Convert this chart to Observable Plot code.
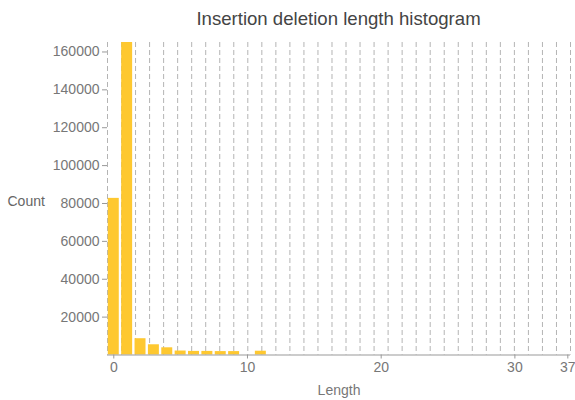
<!DOCTYPE html>
<html>
<head>
<meta charset="utf-8">
<script src="https://cdn.jsdelivr.net/npm/d3@7"></script>
<script src="https://cdn.jsdelivr.net/npm/@observablehq/plot@0.6"></script>
<style>
  html, body { margin: 0; padding: 0; background: #fff; }
  #title {
    height: 34px; box-sizing: border-box;
    padding: 8px 5px 0 107px;
    text-align: center;
    font: 18.6px "Liberation Sans", Arial, sans-serif;
    color: #444;
  }
  #chart svg { display: block; }
</style>
</head>
<body>
<div id="title">Insertion deletion length histogram</div>
<div id="chart"></div>
<script>
// Data
const lengths = [0, 1, 2, 3, 4, 5, 6, 7, 8, 9, 11];
const counts  = [82700, 165000, 8600, 5400, 3800, 2100, 1900, 1900, 1800, 1800, 2000];

const yTickValues = [20000, 40000, 60000, 80000, 100000, 120000, 140000, 160000];
const xTickValues = [0, 10, 20, 30, 33.96];
const xTickLabels = ["0", "10", "20", "30", "37"];

const xDomain = [-0.47, 34.16];
const yDomain = [0, 165000];
const gridCount = 33; // vertical dashed lines divide the frame into equal parts

const data = lengths.map((l, i) => ({length: l, count: counts[i]}));
const gridPositions = d3.range(gridCount + 1).map(k => xDomain[0] + k * (xDomain[1] - xDomain[0]) / gridCount);

const font = '"Liberation Sans", Arial, sans-serif';

const chart = Plot.plot({
  width: 575,
  height: 366,
  marginLeft: 107,
  marginRight: 5,
  marginTop: 8,
  marginBottom: 45.5,
  style: {fontFamily: font, fontSize: "14px", color: "#777", background: "#fff"},
  x: {domain: xDomain, axis: null},
  y: {domain: yDomain, axis: null},
  marks: [
    Plot.ruleX(gridPositions, {stroke: "#b4b4b4", strokeWidth: 1, strokeDasharray: "5,3"}),
    Plot.rectY(data, {
      x1: d => d.length - 0.5,
      x2: d => d.length + 0.5,
      y: "count",
      fill: "#fec830",
      insetLeft: 1.2,
      insetRight: 1.2
    }),
    Plot.ruleY([0], {stroke: "#999", strokeWidth: 1}),
    Plot.axisY({
      ticks: yTickValues,
      tickFormat: d3.format("d"),
      tickSize: 5,
      tickPadding: 3,
      stroke: "#999",
      fill: "#777",
      fontSize: 14,
      label: null
    }),
    Plot.axisX({
      ticks: xTickValues,
      tickFormat: (d, i) => xTickLabels[i],
      tickSize: 4,
      tickPadding: 3,
      stroke: "#999",
      fill: "#777",
      fontSize: 14,
      label: null
    }),
    Plot.text(["Count"], {frameAnchor: "left", dx: -100, dy: 3, textAnchor: "start", fill: "#666", fontSize: 14}),
    Plot.text(["Length"], {frameAnchor: "bottom", dy: 40, fill: "#777", fontSize: 14})
  ]
});

document.getElementById("chart").appendChild(chart);
</script>
</body>
</html>
